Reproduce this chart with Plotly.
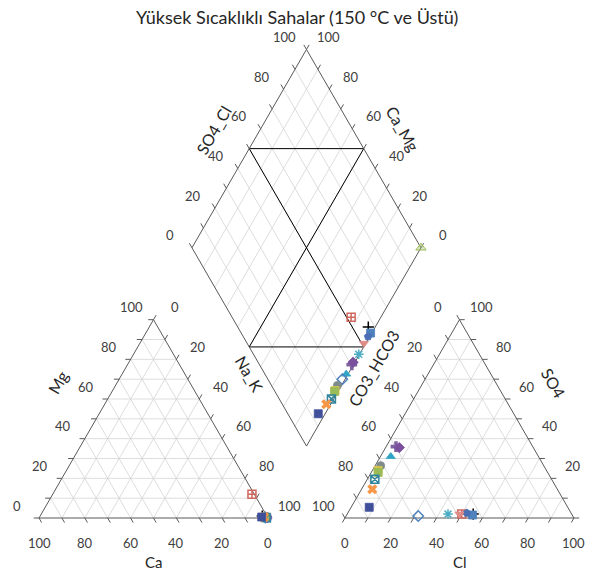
import numpy as np
import plotly.graph_objects as go

# ---------------- data ----------------
title_text = "Yüksek Sıcaklıklı Sahalar (150 °C ve Üstü)"
samples = ["S1", "S2", "S3", "S4", "S5", "S6", "S7", "S8",
           "S9", "S10", "S11", "S12", "S13", "S14", "S15", "S16"]
# cations (% meq)
Ca = [1.0, 2.0, 0.5, 0.5, 0.5, 0.3, 0.5, 0.5, 0.8, 1.0, 1.5, 1.0, 1.2, 0.8, 1.5, 2.5]
Mg = [12.0, 1.0, 0.0, 0.2, 0.3, 0.0, 0.2, 0.3, 0.0, 0.2, 0.3, 0.5, 0.3, 0.2, 0.4, 0.5]
Na_K = [87.0, 97.0, 99.5, 99.3, 99.2, 99.7, 99.3, 99.2, 99.2, 98.8, 98.2, 98.5, 98.5, 99.0, 98.1, 97.0]
# anions (% meq)
Cl = [50.0, 55.0, 55.0, 52.0, 49.0, 44.0, 4.3, 6.0, 4.5, 31.5, 2.4, 2.5, 3.0, 3.3, 4.7, 7.9]
SO4 = [2.0, 2.0, 1.5, 2.5, 2.0, 2.0, 36.0, 35.5, 31.0, 1.0, 26.4, 24.0, 23.0, 19.5, 14.5, 5.4]
CO3_HCO3 = [48.0, 43.0, 43.5, 45.5, 49.0, 54.0, 59.7, 58.5, 64.5, 67.5, 71.2, 73.5, 74.0, 77.2, 80.8, 86.7]
# extra point shown only in the diamond
extra_SO4_Cl = [100.0]
extra_Ca_Mg = [0.0]

symbols = ["square-cross-open", "cross-thin-open", "square", "pentagon", "triangle-down",
           "asterisk-open", "cross", "diamond", "triangle-up", "diamond-open",
           "circle", "square", "square", "square-x-open", "x", "square"]
colors = ["#D0675F", "#000000", "#4F81BD", "#4A6FB5", "#E08C88",
          "#4BACC6", "#8064A2", "#7A4F9E", "#31A5C6", "#4F81BD",
          "#7F8C8D", "#D9C84A", "#9BBB59", "#31859C", "#F79646", "#3F4F9A"]

tick_vals = [0, 20, 40, 60, 80, 100]

# ---------------- geometry ----------------
H = np.sqrt(3) / 2
GAP = 33.6
DY = 31.4
RX0 = 100 + GAP
BX, BY = 100 + GAP / 2, DY
TL = 2.3      # tick length
LO = 10.9     # label offset

def cat_xy(ca, mg, na):
    t = ca + mg + na
    mg, na = mg / t * 100, na / t * 100
    return na + mg / 2, mg * H

def an_xy(cl, so4, co3):
    t = cl + so4 + co3
    cl, so4 = cl / t * 100, so4 / t * 100
    return RX0 + cl + so4 / 2, so4 * H

def dia_xy(a, m):
    return BX + (a - m) / 2, BY + (a + m) * H

grid_x, grid_y = [], []
edge_x, edge_y = [], []
tick_x, tick_y = [], []
inner_x, inner_y = [], []

def seg(lx, ly, p, q):
    lx += [p[0], q[0], None]
    ly += [p[1], q[1], None]

for ox in (0, RX0):
    for k in range(10, 100, 10):
        seg(grid_x, grid_y, (ox + k / 2, k * H), (ox + 100 - k / 2, k * H))
        seg(grid_x, grid_y, (ox + k, 0), (ox + k / 2, k * H))
        seg(grid_x, grid_y, (ox + k, 0), (ox + 50 + k / 2, (100 - k) * H))
    edge_x += [ox, ox + 100, ox + 50, ox, None]
    edge_y += [0, 0, 100 * H, 0, None]

for k in range(10, 100, 10):
    seg(grid_x, grid_y, dia_xy(k, 0), dia_xy(k, 100))
    seg(grid_x, grid_y, dia_xy(0, k), dia_xy(100, k))
for p, q in [((0, 0), (100, 0)), ((100, 0), (100, 100)), ((100, 100), (0, 100)), ((0, 100), (0, 0))]:
    seg(edge_x, edge_y, dia_xy(*p), dia_xy(*q))
seg(inner_x, inner_y, dia_xy(50, 0), dia_xy(50, 100))
seg(inner_x, inner_y, dia_xy(0, 50), dia_xy(100, 50))
seg(inner_x, inner_y, dia_xy(50, 100), dia_xy(100, 50))
seg(inner_x, inner_y, dia_xy(0, 50), dia_xy(50, 0))

annotations = []
def lab(x, y, text, size=13, angle=0, color="#404040"):
    annotations.append(dict(x=x, y=y, xref="x", yref="y", text=text, showarrow=False,
                            textangle=angle, font=dict(family="Lato", size=size, color=color),
                            xanchor="center", yanchor="middle"))

for k in range(0, 101, 10):
    # left triangle
    p = (100 - k, 0)                       # Ca bottom
    seg(tick_x, tick_y, p, (p[0] + 0.5 * TL, -H * TL))
    p = (k / 2, k * H)                     # Mg left
    seg(tick_x, tick_y, p, (p[0] - TL, p[1]))
    p = (k + (100 - k) / 2, (100 - k) * H)  # Na_K right
    seg(tick_x, tick_y, p, (p[0] + 0.5 * TL, p[1] + H * TL))
    # right triangle
    p = (RX0 + k, 0)                       # Cl bottom
    seg(tick_x, tick_y, p, (p[0] - 0.5 * TL, -H * TL))
    p = (RX0 + 100 - k / 2, k * H)         # SO4 right
    seg(tick_x, tick_y, p, (p[0] + TL, p[1]))
    p = (RX0 + (100 - k) / 2, (100 - k) * H)  # CO3 left
    seg(tick_x, tick_y, p, (p[0] - 0.5 * TL, p[1] + H * TL))
    # diamond
    p = dia_xy(k, 100)
    seg(tick_x, tick_y, p, (p[0] - 0.5 * TL, p[1] + H * TL))
    p = dia_xy(100, k)
    seg(tick_x, tick_y, p, (p[0] + 0.5 * TL, p[1] + H * TL))

for k in tick_vals:
    t = str(k)
    lab(100 - k, -LO, t)
    p = (k / 2, k * H); lab(p[0] - LO * H, p[1] + LO * 0.5, t)
    p = (k + (100 - k) / 2, (100 - k) * H); lab(p[0] + LO * H, p[1] + LO * 0.5, t)
    lab(RX0 + k, -LO, t)
    p = (RX0 + 100 - k / 2, k * H); lab(p[0] + LO * H, p[1] + LO * 0.5, t)
    p = (RX0 + (100 - k) / 2, (100 - k) * H); lab(p[0] - LO * H, p[1] + LO * 0.5, t)
    p = dia_xy(k, 100); lab(p[0] - LO * H, p[1] + LO * 0.5, t)
    p = dia_xy(100, k); lab(p[0] + LO * H, p[1] + LO * 0.5, t)

# axis titles
tcol = "#262626"
lab(76.0, 169.4, "SO4_Cl", 16, -60, tcol)
lab(159.0, 170.3, "Ca_Mg", 16, 60, tcol)
lab(8.3, 59.0, "Mg", 16, -60, tcol)
lab(91.7, 62.9, "Na_K", 16, 60, tcol)
lab(145.9, 65.5, "CO3_HCO3", 16, -60, tcol)
lab(224.5, 59.0, "SO4", 16, 60, tcol)
lab(49.8, -19.2, "Ca", 15, 0, tcol)
lab(183.8, -19.2, "Cl", 15, 0, tcol)

annotations.append(dict(x=0.5, y=1 - 17 / 572, xref="paper", yref="paper", text=title_text,
                        showarrow=False, xanchor="center", yanchor="middle",
                        font=dict(family="Lato", size=18, color="#262626")))

fig = go.Figure()
fig.add_trace(go.Scatter(x=grid_x, y=grid_y, mode="lines", line=dict(color="#D4D4D4", width=0.8),
                         hoverinfo="skip", showlegend=False))
fig.add_trace(go.Scatter(x=inner_x, y=inner_y, mode="lines", line=dict(color="#000000", width=1),
                         hoverinfo="skip", showlegend=False))
fig.add_trace(go.Scatter(x=edge_x, y=edge_y, mode="lines", line=dict(color="#595959", width=1),
                         hoverinfo="skip", showlegend=False))
fig.add_trace(go.Scatter(x=tick_x, y=tick_y, mode="lines", line=dict(color="#595959", width=1),
                         hoverinfo="skip", showlegend=False))

# extra diamond-only point
ex, ey = zip(*[dia_xy(a, m) for a, m in zip(extra_SO4_Cl, extra_Ca_Mg)])
fig.add_trace(go.Scatter(x=list(ex), y=list(ey), mode="markers", showlegend=False,
                         marker=dict(symbol="triangle-up", size=9, color="rgba(155,187,89,0.35)",
                                     line=dict(color="#9BBB59", width=1))))

for i, name in enumerate(samples):
    cx, cy = cat_xy(Ca[i], Mg[i], Na_K[i])
    axx, ayy = an_xy(Cl[i], SO4[i], CO3_HCO3[i])
    dx, dy = dia_xy(Cl[i] + SO4[i], Ca[i] + Mg[i])
    sym = symbols[i]
    col = colors[i]
    mk = dict(symbol=sym, size=8, color=col,
              line=dict(color=col, width=1.5 if sym.endswith("open") else 0.8))
    if sym in ("x", "cross"):
        mk["size"] = 9
        mk["line"] = dict(width=0)
    fig.add_trace(go.Scatter(x=[cx, axx, dx], y=[cy, ayy, dy], mode="markers", name=name,
                             marker=mk, showlegend=False))

fig.update_layout(
    width=593, height=572,
    margin=dict(l=0, r=0, t=0, b=0),
    paper_bgcolor="white", plot_bgcolor="white",
    xaxis=dict(range=[-39 / 2.29, (593 - 39) / 2.29], visible=False, fixedrange=True),
    yaxis=dict(range=[(518 - 572) / 2.29, 518 / 2.29], visible=False, fixedrange=True),
    annotations=annotations,
)
fig.write_html("out.html")
